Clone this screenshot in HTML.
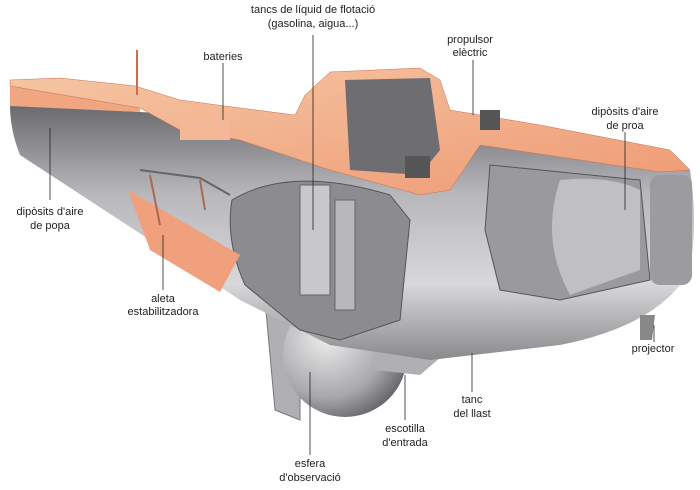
<!DOCTYPE html>
<html><head><meta charset="utf-8"><style>
html,body{margin:0;padding:0;background:#fff;}
svg{display:block;}
text{font-family:"Liberation Sans",sans-serif;font-size:11px;fill:#222;text-anchor:middle;}
</style></head><body>
<svg width="700" height="490" viewBox="0 0 700 490">
<defs>
<linearGradient id="hull" x1="0" y1="0" x2="0" y2="1">
<stop offset="0" stop-color="#6a6a6e"/><stop offset="0.35" stop-color="#b8b8bc"/><stop offset="0.7" stop-color="#d8d8da"/><stop offset="1" stop-color="#8a8a8e"/></linearGradient>
<linearGradient id="deck" x1="0" y1="0" x2="1" y2="1">
<stop offset="0" stop-color="#f6c6a4"/><stop offset="1" stop-color="#ee9a74"/></linearGradient>
<radialGradient id="sph" cx="0.35" cy="0.35" r="0.7">
<stop offset="0" stop-color="#eeeeee"/><stop offset="0.7" stop-color="#a8a8ac"/><stop offset="1" stop-color="#6a6a6e"/></radialGradient>
</defs>
<!-- sphere -->
<path d="M265 300 L300 300 L300 420 L275 410 Z" fill="#b0b0b4" stroke="#777"/>
<circle cx="345" cy="355" r="62" fill="url(#sph)"/>
<circle cx="345" cy="322" r="13" fill="#8a8a8e" stroke="#555"/>
<path d="M372 300 L440 300 L455 345 L420 375 L375 370 Z" fill="#b0b0b4"/>
<rect x="445" y="322" width="22" height="32" fill="#999"/>
<!-- hull -->
<path d="M10 105 L140 112 L300 120 L450 125 L690 170 Q698 220 690 270 Q660 325 560 345 L430 360 L330 345 L240 300 L150 240 L20 155 Q10 130 10 105 Z" fill="url(#hull)"/>
<!-- cutaways -->
<path d="M232 200 Q290 165 390 195 L410 220 L400 320 L340 340 L300 330 L245 285 Q225 240 232 200 Z" fill="#8c8c90" stroke="#555"/>
<rect x="300" y="185" width="30" height="110" fill="#c8c8cc" stroke="#666"/>
<rect x="335" y="200" width="20" height="110" fill="#b8b8bc" stroke="#666"/>
<path d="M490 165 L640 180 L650 280 L560 300 L500 290 L485 230 Z" fill="#9a9a9e" stroke="#555"/>
<path d="M560 180 Q610 175 640 190 L640 270 L570 295 Q540 240 560 180 Z" fill="#c0c0c4"/>
<rect x="650" y="175" width="42" height="110" rx="10" fill="#9c9ca0"/>
<!-- fin -->
<path d="M128 190 L240 255 L220 292 L150 250 Z" fill="#f0a07c"/>
<path d="M140 170 L200 178 L230 195" fill="none" stroke="#666" stroke-width="2"/>
<path d="M150 175 L160 225 M200 180 L205 210" stroke="#a86a50" stroke-width="2"/>
<!-- deck -->
<path d="M10 86 L140 92 L140 112 L10 106 Z" fill="#f0a680"/>
<path d="M10 80 L60 78 L135 86 L180 100 L240 108 L295 115 L305 95 L330 72 L420 68 L440 80 L450 110 L540 125 L670 150 L690 170 L660 172 L480 145 L450 190 L420 195 L330 170 L300 160 L240 140 L180 130 L140 108 L10 86 Z" fill="url(#deck)" stroke="#c8704e" stroke-width="0.5"/>
<path d="M345 80 L430 78 L440 150 L420 175 L350 170 Z" fill="#6e6e72"/>
<rect x="480" y="110" width="20" height="20" fill="#555"/>
<rect x="405" y="156" width="25" height="22" fill="#555"/>
<rect x="180" y="118" width="50" height="22" fill="#f4b898"/>
<line x1="137" y1="50" x2="137" y2="95" stroke="#c8704e" stroke-width="2"/>
<path d="M640 340 L640 315 L655 315 L652 340 Z" fill="#888"/>
<!-- leader lines -->
<g stroke="#222" stroke-width="0.8">
<line x1="313" y1="35" x2="313" y2="230"/>
<line x1="223" y1="63" x2="223" y2="120"/>
<line x1="473" y1="60" x2="473" y2="115"/>
<line x1="625" y1="132" x2="625" y2="210"/>
<line x1="50" y1="200" x2="50" y2="128"/>
<line x1="163" y1="290" x2="163" y2="235"/>
<line x1="654" y1="342" x2="654" y2="325"/>
<line x1="472" y1="392" x2="472" y2="353"/>
<line x1="405" y1="420" x2="405" y2="375"/>
<line x1="310" y1="455" x2="310" y2="372"/>
</g>
<text x="313" y="13">tancs de líquid de flotació</text>
<text x="313" y="27">(gasolina, aigua...)</text>
<text x="223" y="60">bateries</text>
<text x="470" y="43">propulsor</text>
<text x="470" y="56">elèctric</text>
<text x="625" y="115">dipòsits d'aire</text>
<text x="625" y="129">de proa</text>
<text x="50" y="215">dipòsits d'aire</text>
<text x="50" y="229">de popa</text>
<text x="163" y="302">aleta</text>
<text x="163" y="315">estabilitzadora</text>
<text x="653" y="352">projector</text>
<text x="472" y="403">tanc</text>
<text x="472" y="417">del llast</text>
<text x="405" y="432">escotilla</text>
<text x="405" y="446">d'entrada</text>
<text x="310" y="467">esfera</text>
<text x="310" y="481">d'observació</text>
</svg>
</body></html>
